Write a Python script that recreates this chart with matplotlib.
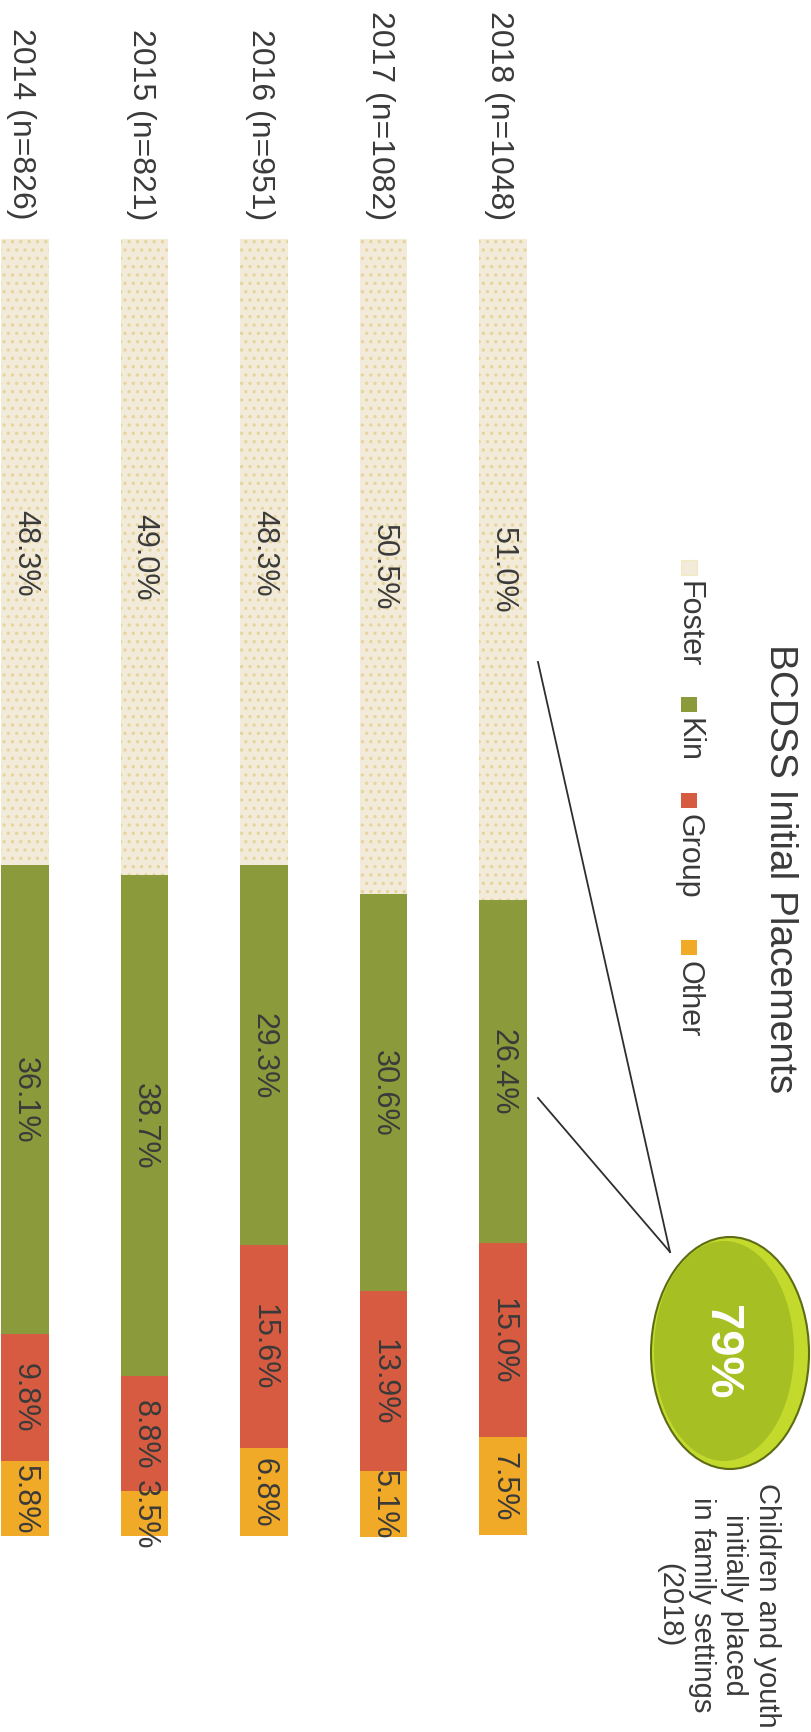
import matplotlib.pyplot as plt
from matplotlib.patches import Ellipse, Rectangle

plt.rcParams['font.family'] = ['Liberation Sans', 'DejaVu Sans']
plt.rcParams['hatch.linewidth'] = 1.2

# placement shares per year (percent)
years = ['2014 (n=826)', '2015 (n=821)', '2016 (n=951)', '2017 (n=1082)', '2018 (n=1048)']
foster = [48.3, 49.0, 48.3, 50.5, 51.0]
kin = [36.1, 38.7, 29.3, 30.6, 26.4]
group = [9.8, 8.8, 15.6, 13.9, 15.0]
other = [5.8, 3.5, 6.8, 5.1, 7.5]

categories = ['Foster', 'Kin', 'Group', 'Other']
colors = {
    'Foster': '#f2ebda',
    'Kin': '#8b9a3b',
    'Group': '#d75b40',
    'Other': '#f0aa28',
}
text_color = '#3a3a3a'

# page geometry (pixels, origin top-left) - the chart is laid out turned on its side
W, H = 812, 1733
bar_top, bar_end = 240, 1537
first_bar_x, bar_step = 25, 119.5
px_per_pct = (bar_end - bar_top) / 100.0

fig = plt.figure(figsize=(W / 100, H / 100), dpi=100)
fig.patch.set_facecolor('white')

ax = fig.add_axes([0, 0, 1, 1])
ax.set_xlim(-first_bar_x / bar_step, (W - first_bar_x) / bar_step)
ax.set_ylim((H - bar_top) / px_per_pct, -bar_top / px_per_pct)
ax.axis('off')

series = [foster, kin, group, other]
x = list(range(len(years)))
bottoms = [0.0] * len(years)
for name, vals in zip(categories, series):
    if name == 'Foster':
        ax.bar(x, vals, bottom=bottoms, width=0.395, color=colors[name],
               edgecolor='#e6d49c', linewidth=0, hatch='..')
    else:
        ax.bar(x, vals, bottom=bottoms, width=0.395, color=colors[name], linewidth=0)
    for i, v in enumerate(vals):
        ax.text(i, bottoms[i] + v / 2, f'{v:.1f}%', rotation=-90, ha='center', va='center',
                fontsize=22, color=text_color, clip_on=False)
    bottoms = [b + v for b, v in zip(bottoms, vals)]

# year labels above each bar, ending just before the bar starts
for i, lab in enumerate(years):
    ax.text(i - 0.03, -20 / px_per_pct, lab, rotation=-90, ha='center', va='bottom',
            fontsize=23, color=text_color, clip_on=False)

# overlay in page pixels for title, legend and callout
ov = fig.add_axes([0, 0, 1, 1])
ov.set_xlim(0, W)
ov.set_ylim(H, 0)
ov.axis('off')
ov.patch.set_alpha(0)

ov.text(780, 644, 'BCDSS Initial Placements', rotation=-90, ha='center', va='top',
        fontsize=28, color=text_color)

legend_y = [561, 698, 794, 941]
for name, y0 in zip(categories, legend_y):
    ec = '#f5e7c0' if name == 'Foster' else 'none'
    ov.add_patch(Rectangle((681, y0), 16, 15, facecolor=colors[name], edgecolor=ec, lw=0.8))
    ov.text(689, y0 + 20, name, rotation=-90, ha='center', va='top', fontsize=22, color=text_color)

# callout lines from the 2018 bar to the bubble
tip = (670, 1253)
for y0 in (663, 1099):
    ov.plot([538, tip[0]], [y0, tip[1]], color='#2e2e2e', lw=1.3)

ov.add_patch(Ellipse((730, 1354), 158, 232, facecolor='#c3da2c', edgecolor='#5d6b14', lw=1.5))
ov.add_patch(Ellipse((724, 1352), 140, 220, facecolor='#a6bf22', edgecolor='none'))
ov.text(721, 1352, '79%', rotation=-90, ha='center', va='center', fontsize=34,
        fontweight='bold', color='white')

ov.text(718, 1605, 'Children and youth\ninitially placed\nin family settings\n(2018)',
        rotation=-90, ha='center', va='center', multialignment='center',
        fontsize=21, color=text_color, linespacing=1.2)

fig.savefig('out.png', dpi=100, facecolor='white')
